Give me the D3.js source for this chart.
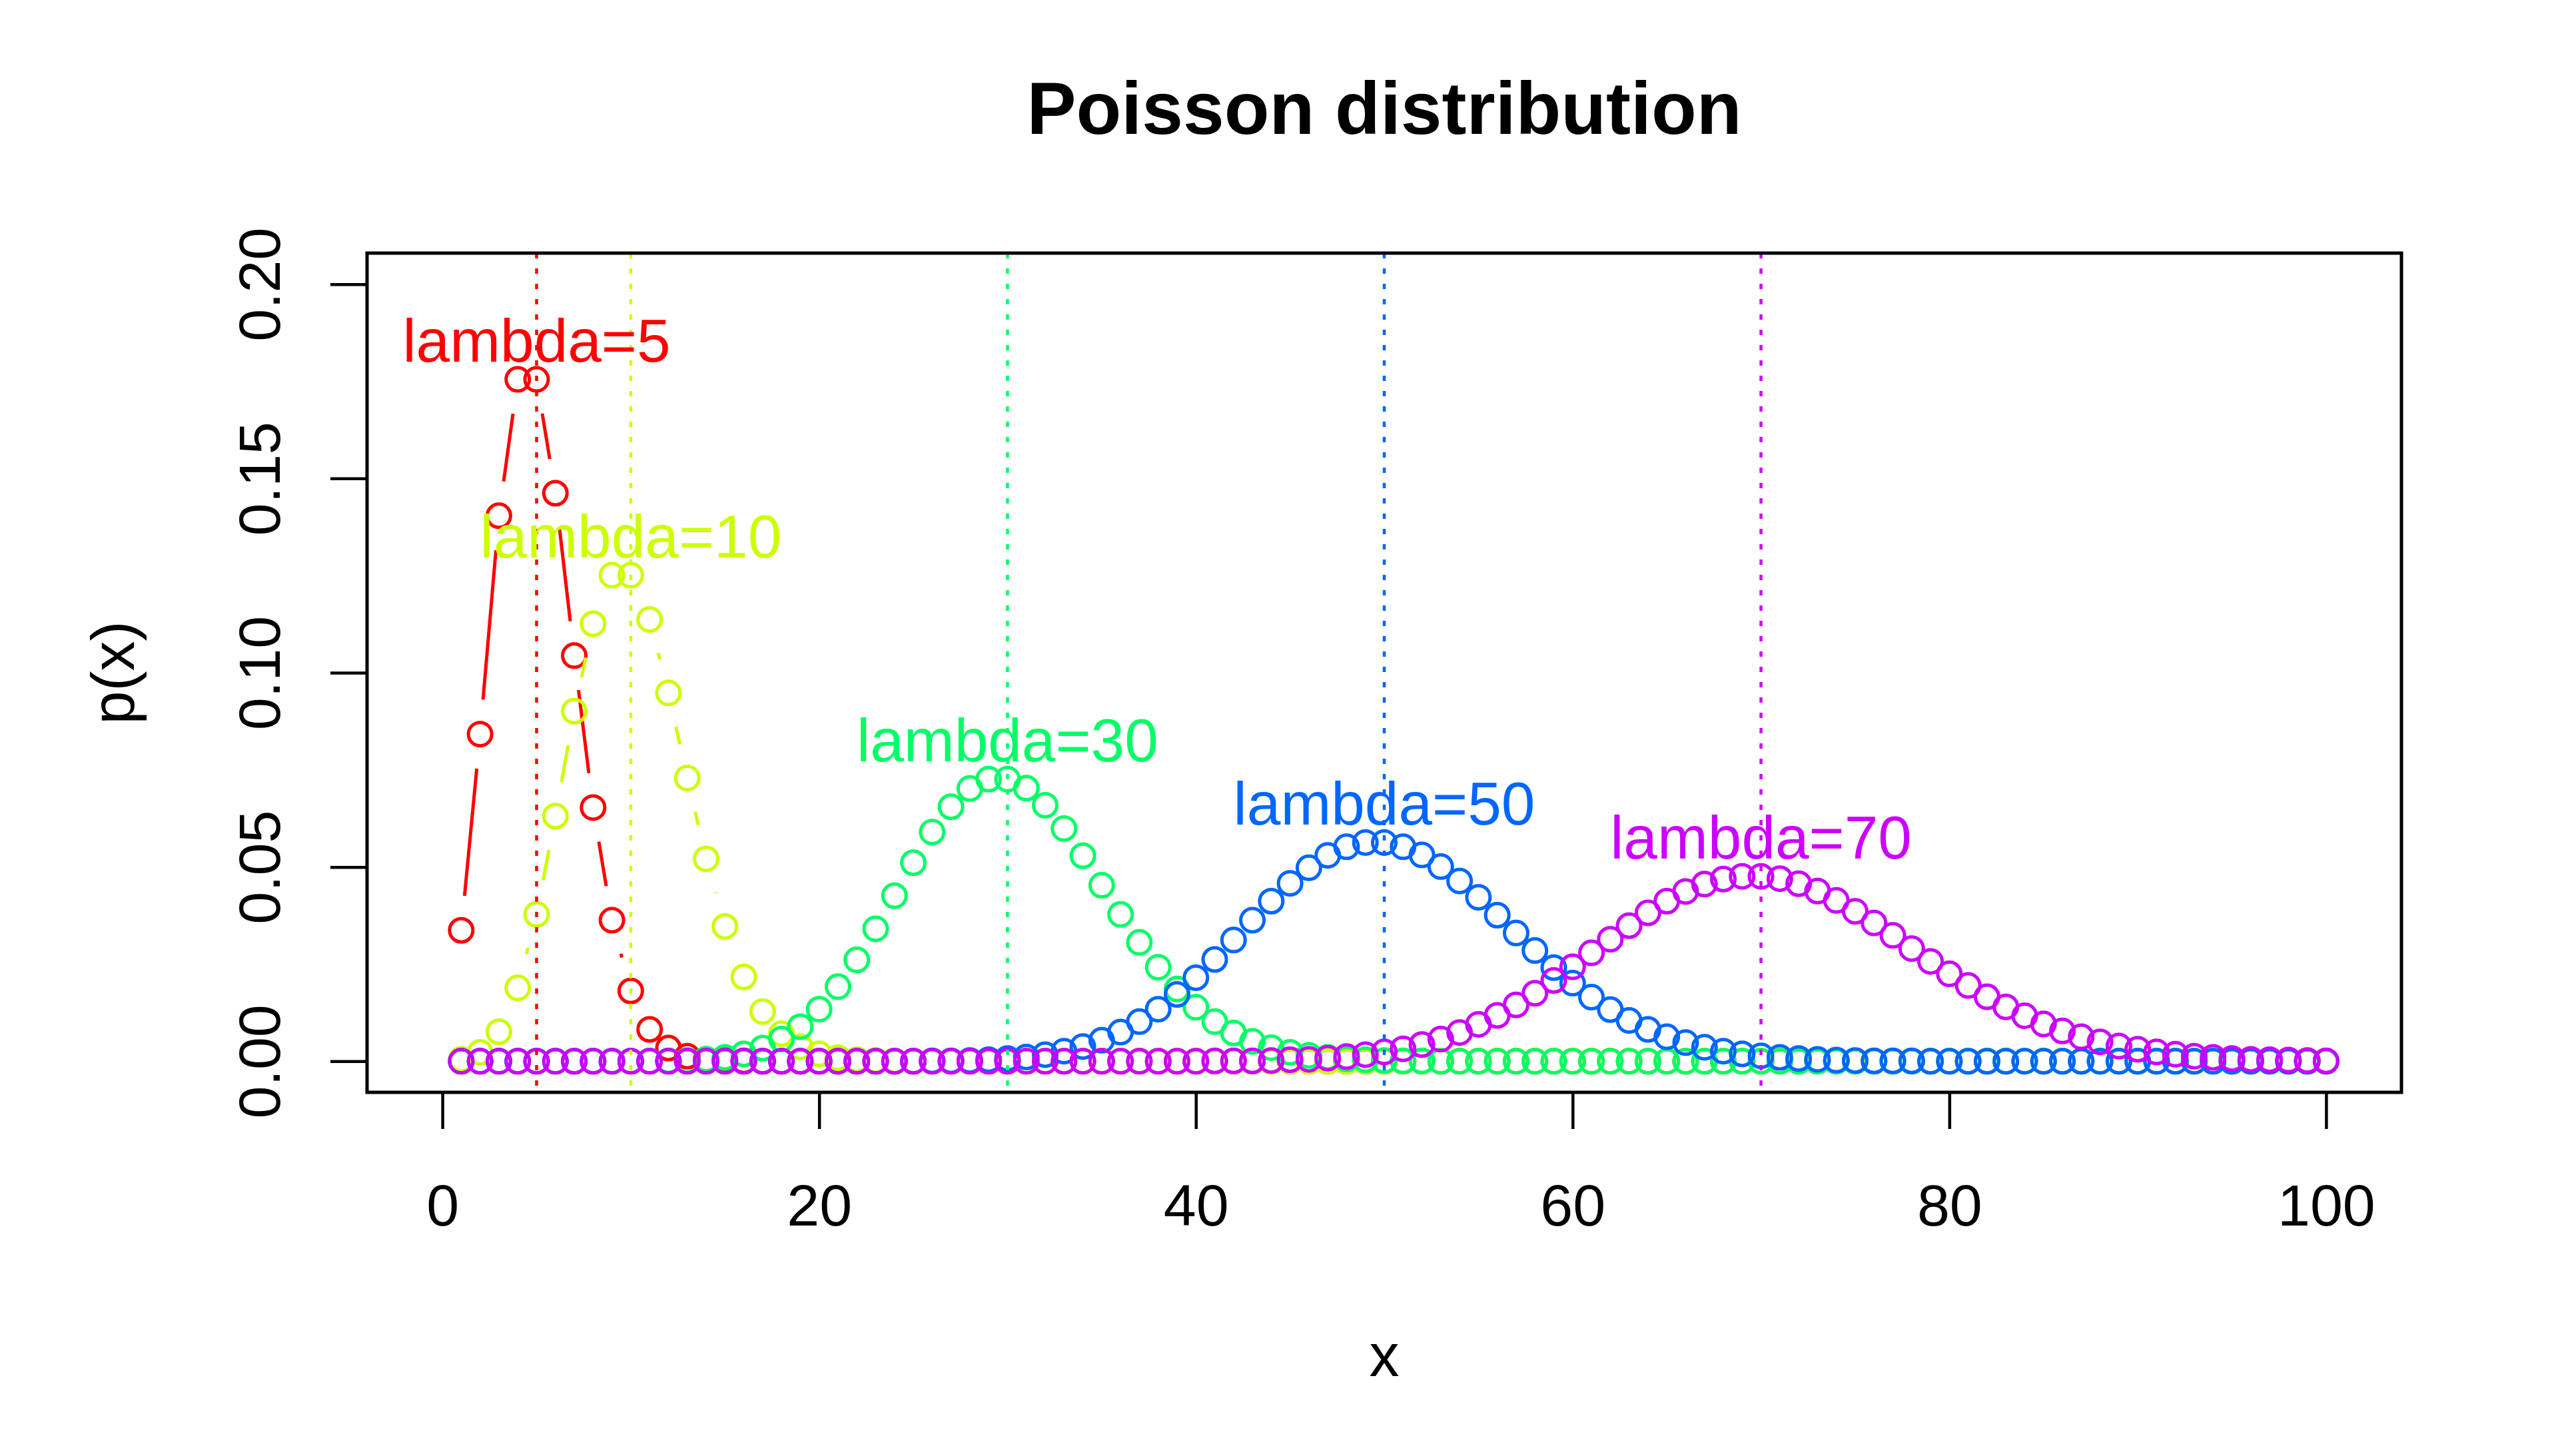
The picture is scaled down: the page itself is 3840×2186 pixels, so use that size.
<!DOCTYPE html>
<html>
<head>
<meta charset="utf-8">
<script src="https://cdn.jsdelivr.net/npm/d3@7"></script>
<style>
  html, body { margin: 0; padding: 0; background: #ffffff; }
  svg { display: block; }
  text { font-family: "Liberation Sans", Arial, Helvetica, sans-serif; }
</style>
</head>
<body>
<svg id="chart" width="3840" height="2186"></svg>
<script>
// ---------------- data ----------------
const xValues = [
  1,2,3,4,5,6,7,8,9,10,
  11,12,13,14,15,16,17,18,19,20,
  21,22,23,24,25,26,27,28,29,30,
  31,32,33,34,35,36,37,38,39,40,
  41,42,43,44,45,46,47,48,49,50,
  51,52,53,54,55,56,57,58,59,60,
  61,62,63,64,65,66,67,68,69,70,
  71,72,73,74,75,76,77,78,79,80,
  81,82,83,84,85,86,87,88,89,90,
  91,92,93,94,95,96,97,98,99,100
];

const lambdas = [5, 10, 30, 50, 70];
const seriesLabels = ["lambda=5", "lambda=10", "lambda=30", "lambda=50", "lambda=70"];
const seriesColors = ["#FF0000", "#CCFF00", "#00FF66", "#0066FF", "#CC00FF"];

const pLambda5 = [
  0.0337,0.0842,0.1404,0.1755,0.1755,0.1462,0.1044,0.0653,0.0363,0.0181,
  0.0082,0.0034,0.0013,0.0005,0.0002,0.0001,0,0,0,0,
  0,0,0,0,0,0,0,0,0,0,
  0,0,0,0,0,0,0,0,0,0,
  0,0,0,0,0,0,0,0,0,0,
  0,0,0,0,0,0,0,0,0,0,
  0,0,0,0,0,0,0,0,0,0,
  0,0,0,0,0,0,0,0,0,0,
  0,0,0,0,0,0,0,0,0,0,
  0,0,0,0,0,0,0,0,0,0
];
const pLambda10 = [
  0.0005,0.0023,0.0076,0.0189,0.0378,0.0631,0.0901,0.1126,0.1251,0.1251,
  0.1137,0.0948,0.0729,0.0521,0.0347,0.0217,0.0128,0.0071,0.0037,0.0019,
  0.0009,0.0004,0.0002,0.0001,0,0,0,0,0,0,
  0,0,0,0,0,0,0,0,0,0,
  0,0,0,0,0,0,0,0,0,0,
  0,0,0,0,0,0,0,0,0,0,
  0,0,0,0,0,0,0,0,0,0,
  0,0,0,0,0,0,0,0,0,0,
  0,0,0,0,0,0,0,0,0,0,
  0,0,0,0,0,0,0,0,0,0
];
const pLambda30 = [
  0,0,0,0,0,0,0,0,0,0,
  0,0.0001,0.0002,0.0005,0.0010,0.0019,0.0034,0.0057,0.0089,0.0134,
  0.0192,0.0261,0.0341,0.0426,0.0511,0.0590,0.0655,0.0702,0.0726,0.0726,
  0.0703,0.0659,0.0599,0.0529,0.0453,0.0378,0.0306,0.0242,0.0186,0.0139,
  0.0102,0.0073,0.0051,0.0035,0.0023,0.0015,0.0010,0.0006,0.0004,0.0002,
  0.0001,0.0001,0,0,0,0,0,0,0,0,
  0,0,0,0,0,0,0,0,0,0,
  0,0,0,0,0,0,0,0,0,0,
  0,0,0,0,0,0,0,0,0,0,
  0,0,0,0,0,0,0,0,0,0
];
const pLambda50 = [
  0,0,0,0,0,0,0,0,0,0,
  0,0,0,0,0,0,0,0,0,0,
  0,0,0,0,0,0.0001,0.0001,0.0002,0.0004,0.0007,
  0.0011,0.0017,0.0026,0.0038,0.0054,0.0075,0.0102,0.0134,0.0172,0.0215,
  0.0262,0.0312,0.0363,0.0412,0.0458,0.0498,0.0530,0.0552,0.0563,0.0563,
  0.0552,0.0531,0.0501,0.0464,0.0422,0.0376,0.0330,0.0285,0.0241,0.0201,
  0.0165,0.0133,0.0105,0.0082,0.0063,0.0048,0.0036,0.0026,0.0019,0.0014,
  0.0010,0.0007,0.0005,0.0003,0.0002,0.0001,0.0001,0.0001,0,0,
  0,0,0,0,0,0,0,0,0,0,
  0,0,0,0,0,0,0,0,0,0
];
const pLambda70 = [
  0,0,0,0,0,0,0,0,0,0,
  0,0,0,0,0,0,0,0,0,0,
  0,0,0,0,0,0,0,0,0,0,
  0,0,0,0,0,0,0,0,0,0,
  0.0001,0.0001,0.0001,0.0002,0.0004,0.0005,0.0008,0.0012,0.0017,0.0024,
  0.0032,0.0043,0.0057,0.0074,0.0095,0.0118,0.0145,0.0175,0.0208,0.0243,
  0.0279,0.0314,0.0349,0.0382,0.0412,0.0437,0.0456,0.0469,0.0476,0.0476,
  0.0470,0.0457,0.0438,0.0414,0.0386,0.0356,0.0324,0.0290,0.0257,0.0225,
  0.0195,0.0166,0.0140,0.0117,0.0096,0.0078,0.0063,0.0050,0.0039,0.0031,
  0.0024,0.0018,0.0013,0.0010,0.0007,0.0005,0.0004,0.0003,0.0002,0.0001
];

const xTicks = [0, 20, 40, 60, 80, 100];
const yTicks = [0, 0.05, 0.10, 0.15, 0.20];
const yTickLabels = ["0.00", "0.05", "0.10", "0.15", "0.20"];
const titleText = "Poisson distribution";
const xLabelText = "x";
const yLabelText = "p(x)";

// ---------------- layout ----------------
const plotLeft = 551, plotRight = 3605, plotTop = 380, plotBottom = 1640;
const xDomain = [-4, 104];
const yDomain = [-0.008, 0.208];
const tickLen = 55;
const pointR = 17.5, pointStroke = 5;
const lineGap = 52;
const fontFamily = '"Liberation Sans", Arial, Helvetica, sans-serif';

const allSeries = [pLambda5, pLambda10, pLambda30, pLambda50, pLambda70];

const svg = d3.select("#chart");
svg.append("rect").attr("x", 0).attr("y", 0).attr("width", 3840).attr("height", 2186).attr("fill", "#ffffff");

const x = d3.scaleLinear().domain(xDomain).range([plotLeft, plotRight]);
const y = d3.scaleLinear().domain(yDomain).range([plotBottom, plotTop]);

// clip for plot region
svg.append("defs").append("clipPath").attr("id", "plotClip")
  .append("rect").attr("x", plotLeft).attr("y", plotTop)
  .attr("width", plotRight - plotLeft).attr("height", plotBottom - plotTop);

const plotG = svg.append("g").attr("clip-path", "url(#plotClip)");

// series: type "b" (points + lines with gaps)
allSeries.forEach((vals, si) => {
  const col = seriesColors[si];
  const pts = xValues.map((xv, i) => [x(xv), y(vals[i])]);
  const segs = [];
  for (let i = 0; i < pts.length - 1; i++) {
    const [x1, y1] = pts[i], [x2, y2] = pts[i + 1];
    const dx = x2 - x1, dy = y2 - y1;
    const d = Math.sqrt(dx * dx + dy * dy);
    if (d > 2 * lineGap) {
      const ux = dx / d, uy = dy / d;
      segs.push([x1 + ux * lineGap, y1 + uy * lineGap, x2 - ux * lineGap, y2 - uy * lineGap]);
    }
  }
  const g = plotG.append("g");
  g.selectAll("line.seg").data(segs).enter().append("line")
    .attr("x1", d => d[0]).attr("y1", d => d[1])
    .attr("x2", d => d[2]).attr("y2", d => d[3])
    .attr("stroke", col).attr("stroke-width", 5).attr("stroke-linecap", "butt");
  g.selectAll("circle").data(xValues).enter().append("circle")
    .attr("cx", d => x(d))
    .attr("cy", (d, i) => y(vals[i]))
    .attr("r", pointR)
    .attr("fill", "none")
    .attr("stroke", col)
    .attr("stroke-width", pointStroke);
});

// series labels at (lambda, max + 0.01)
const labelG = svg.append("g");
lambdas.forEach((lam, si) => {
  labelG.append("text")
    .attr("x", x(lam))
    .attr("y", y(d3.max(allSeries[si]) + 0.01))
    .attr("dy", "0.35em")
    .attr("text-anchor", "middle")
    .attr("font-size", 91)
    .attr("fill", seriesColors[si])
    .text(seriesLabels[si]);
});

// vertical dotted lines at lambda
plotG.selectAll("line.vl").data(lambdas).enter().append("line")
  .attr("x1", d => x(d)).attr("x2", d => x(d))
  .attr("y1", plotTop).attr("y2", plotBottom)
  .attr("stroke", (d, i) => seriesColors[i])
  .attr("stroke-width", 4.5)
  .attr("stroke-dasharray", "8,15");

// box
svg.append("rect")
  .attr("x", plotLeft).attr("y", plotTop)
  .attr("width", plotRight - plotLeft).attr("height", plotBottom - plotTop)
  .attr("fill", "none").attr("stroke", "#000").attr("stroke-width", 5);

// x axis
const xAxisG = svg.append("g")
  .attr("transform", `translate(0,${plotBottom})`)
  .call(d3.axisBottom(x).tickValues(xTicks).tickSize(tickLen).tickSizeOuter(0).tickFormat(d3.format("d")));
xAxisG.select(".domain").remove();
xAxisG.selectAll(".tick line").attr("stroke", "#000").attr("stroke-width", 4.5);
xAxisG.selectAll(".tick text")
  .attr("y", 200).attr("dy", 0)
  .attr("font-size", 88).attr("fill", "#000")
  .attr("font-family", fontFamily);

// y axis
const yAxisG = svg.append("g")
  .attr("transform", `translate(${plotLeft},0)`)
  .call(d3.axisLeft(y).tickValues(yTicks).tickSize(tickLen).tickSizeOuter(0)
    .tickFormat((d, i) => yTickLabels[i]));
yAxisG.select(".domain").remove();
yAxisG.selectAll(".tick line").attr("stroke", "#000").attr("stroke-width", 4.5);
yAxisG.selectAll(".tick text")
  .attr("transform", "rotate(-90)")
  .attr("x", 0).attr("y", -131).attr("dy", 0)
  .attr("text-anchor", "middle")
  .attr("font-size", 88).attr("fill", "#000")
  .attr("font-family", fontFamily);

// title
svg.append("text")
  .attr("x", (plotLeft + plotRight) / 2).attr("y", 201)
  .attr("text-anchor", "middle")
  .attr("font-size", 111).attr("font-weight", "bold").attr("fill", "#000")
  .text(titleText);

// x label
svg.append("text")
  .attr("x", (plotLeft + plotRight) / 2).attr("y", 2066)
  .attr("text-anchor", "middle")
  .attr("font-size", 90).attr("fill", "#000")
  .text(xLabelText);

// y label
svg.append("text")
  .attr("transform", `translate(201,${(plotTop + plotBottom) / 2}) rotate(-90)`)
  .attr("text-anchor", "middle")
  .attr("font-size", 90).attr("fill", "#000")
  .text(yLabelText);
</script>
</body>
</html>
